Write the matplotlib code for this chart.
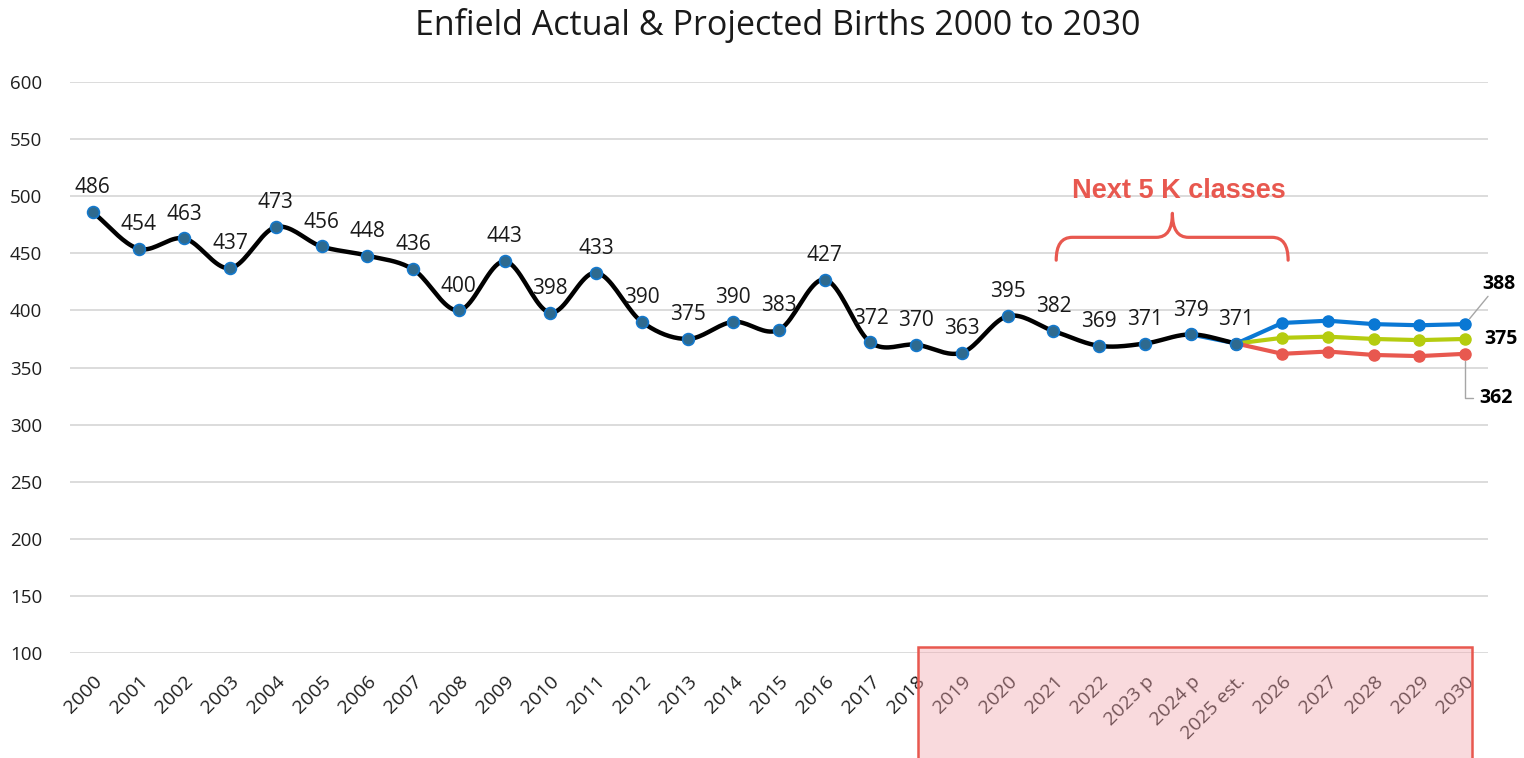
import numpy as np
import matplotlib.pyplot as plt
from matplotlib.path import Path
from matplotlib.patches import PathPatch, Rectangle
import matplotlib.transforms as mtransforms

plt.rcParams['font.family'] = ['Open Sans', 'DejaVu Sans']

years = ["2000", "2001", "2002", "2003", "2004", "2005", "2006", "2007", "2008", "2009",
         "2010", "2011", "2012", "2013", "2014", "2015", "2016", "2017", "2018", "2019",
         "2020", "2021", "2022", "2023 p", "2024 p", "2025 est.", "2026", "2027", "2028",
         "2029", "2030"]
actual = [486, 454, 463, 437, 473, 456, 448, 436, 400, 443, 398, 433, 390, 375, 390,
          383, 427, 372, 370, 363, 395, 382, 369, 371, 379, 371]
# projections (blue from 2024 p, green/red from 2025 est.)
proj_high = [379, 371, 389, 391, 388, 387, 388]
proj_mid = [371, 376, 377, 375, 374, 375]
proj_low = [371, 362, 364, 361, 360, 362]
high_end, mid_end, low_end = 388, 375, 362


def smooth(x, y, n=20):
    # Catmull-Rom curve through the points, like Excel's smoothed line
    x = np.asarray(x, float)
    y = np.asarray(y, float)
    px = np.concatenate([[2 * x[0] - x[1]], x, [2 * x[-1] - x[-2]]])
    py = np.concatenate([[2 * y[0] - y[1]], y, [2 * y[-1] - y[-2]]])
    xs, ys = [], []
    t = np.linspace(0, 1, n, endpoint=False)
    for i in range(1, len(px) - 2):
        for arr, out in ((px, xs), (py, ys)):
            p0, p1, p2, p3 = arr[i - 1], arr[i], arr[i + 1], arr[i + 2]
            out.extend(0.5 * (2 * p1 + (-p0 + p2) * t + (2 * p0 - 5 * p1 + 4 * p2 - p3) * t ** 2
                              + (-p0 + 3 * p1 - 3 * p2 + p3) * t ** 3))
    xs.append(x[-1])
    ys.append(y[-1])
    return np.array(xs), np.array(ys)


fig = plt.figure(figsize=(15.24, 7.58), dpi=100)
ax = fig.add_axes([0.0459, 0.1385, 0.9305, 0.7533])

xa = np.arange(len(actual))
x_hi = np.arange(24, 24 + len(proj_high))
x_mid = np.arange(25, 25 + len(proj_mid))
x_lo = np.arange(25, 25 + len(proj_low))

blue = "#0a78d4"
green = "#b5cc0f"
red = "#e8584f"

ax.plot(x_hi, proj_high, color=blue, lw=3, marker="o", ms=8, zorder=3)
ax.plot(x_mid, proj_mid, color=green, lw=3, marker="o", ms=8, zorder=3)
ax.plot(x_lo, proj_low, color=red, lw=3, marker="o", ms=8, zorder=3)

sx, sy = smooth(xa, actual)
ax.plot(sx, sy, color="black", lw=3.2, zorder=4, solid_capstyle="round")
ax.plot(xa, actual, ls="none", marker="o", ms=8.5, mfc="#2e6a8f", mec="#1478cc",
        mew=1.2, zorder=5)

for x, v in zip(xa, actual):
    ax.annotate(str(v), (x, v), xytext=(0, 10), textcoords="offset points",
                ha="center", va="bottom", fontsize=15, color="#1a1a1a", zorder=6)

# end labels with leader lines
ax.annotate(str(high_end), (30, proj_high[-1]), xytext=(24, 22),
            textcoords="offset points", ha="center", va="bottom", fontsize=14,
            fontweight="bold", color="black",
            arrowprops=dict(arrowstyle="-", color="#a6a6a6", lw=1,
                            shrinkA=0, shrinkB=5))
ax.annotate(str(mid_end), (30, proj_mid[-1]), xytext=(14, 0),
            textcoords="offset points", ha="left", va="center", fontsize=14,
            fontweight="bold", color="black")
ax.annotate(str(low_end), (30, proj_low[-1]), xytext=(10, -32),
            textcoords="offset points", ha="left", va="center", fontsize=14,
            fontweight="bold", color="black",
            arrowprops=dict(arrowstyle="-", color="#a6a6a6", lw=1,
                            connectionstyle="angle,angleA=0,angleB=90,rad=0",
                            shrinkA=2, shrinkB=5))

ax.set_xlim(-0.5, 30.5)
ax.set_ylim(100, 600)
ax.set_yticks(range(100, 601, 50))
ax.set_xticks(range(len(years)))
ax.set_xticklabels(years, rotation=45, ha="right", rotation_mode="anchor")
ax.tick_params(axis="x", length=0, pad=14, labelsize=14, labelcolor="#1f1f1f")
ax.tick_params(axis="y", length=0, pad=20, labelsize=13.5, labelcolor="#1f1f1f")
ax.grid(axis="y", color="#d9d9d9", lw=1.3)
ax.set_axisbelow(True)
for s in ax.spines.values():
    s.set_visible(False)

fig.suptitle("Enfield Actual & Projected Births 2000 to 2030", fontsize=24.5,
             x=0.5105, y=0.99, va="top", color="#1a1a1a")

# pink highlight box over the later years' labels
trans = mtransforms.blended_transform_factory(ax.transData, ax.transAxes)
ax.add_patch(Rectangle((18.04, -0.2), 30.15 - 18.04, 0.21, transform=trans,
                       facecolor=(0.95, 0.64, 0.67, 0.4), edgecolor=red, lw=1.8,
                       clip_on=False, zorder=10))

# curly brace and label
x0, x1 = 21.06, 26.13
xc = 23.6
dx = 0.35
yb, ym, yt = 444, 464, 485
verts = [(x0, yb), (x0, ym), (x0 + dx, ym),
         (xc - dx, ym), (xc, ym), (xc, yt),
         (xc, ym), (xc + dx, ym),
         (x1 - dx, ym), (x1, ym), (x1, yb)]
codes = [Path.MOVETO, Path.CURVE3, Path.CURVE3,
         Path.LINETO, Path.CURVE3, Path.CURVE3,
         Path.CURVE3, Path.CURVE3,
         Path.LINETO, Path.CURVE3, Path.CURVE3]
ax.add_patch(PathPatch(Path(verts, codes), facecolor="none", edgecolor=red, lw=2.3,
                       capstyle="round", joinstyle="round"))
ax.text(xc + 0.15, 505, "Next 5 K classes", ha="center", va="center", fontsize=19.5,
        fontweight="bold", color=red, family=["Liberation Sans", "DejaVu Sans"])

fig.savefig("out.png", dpi=100)
